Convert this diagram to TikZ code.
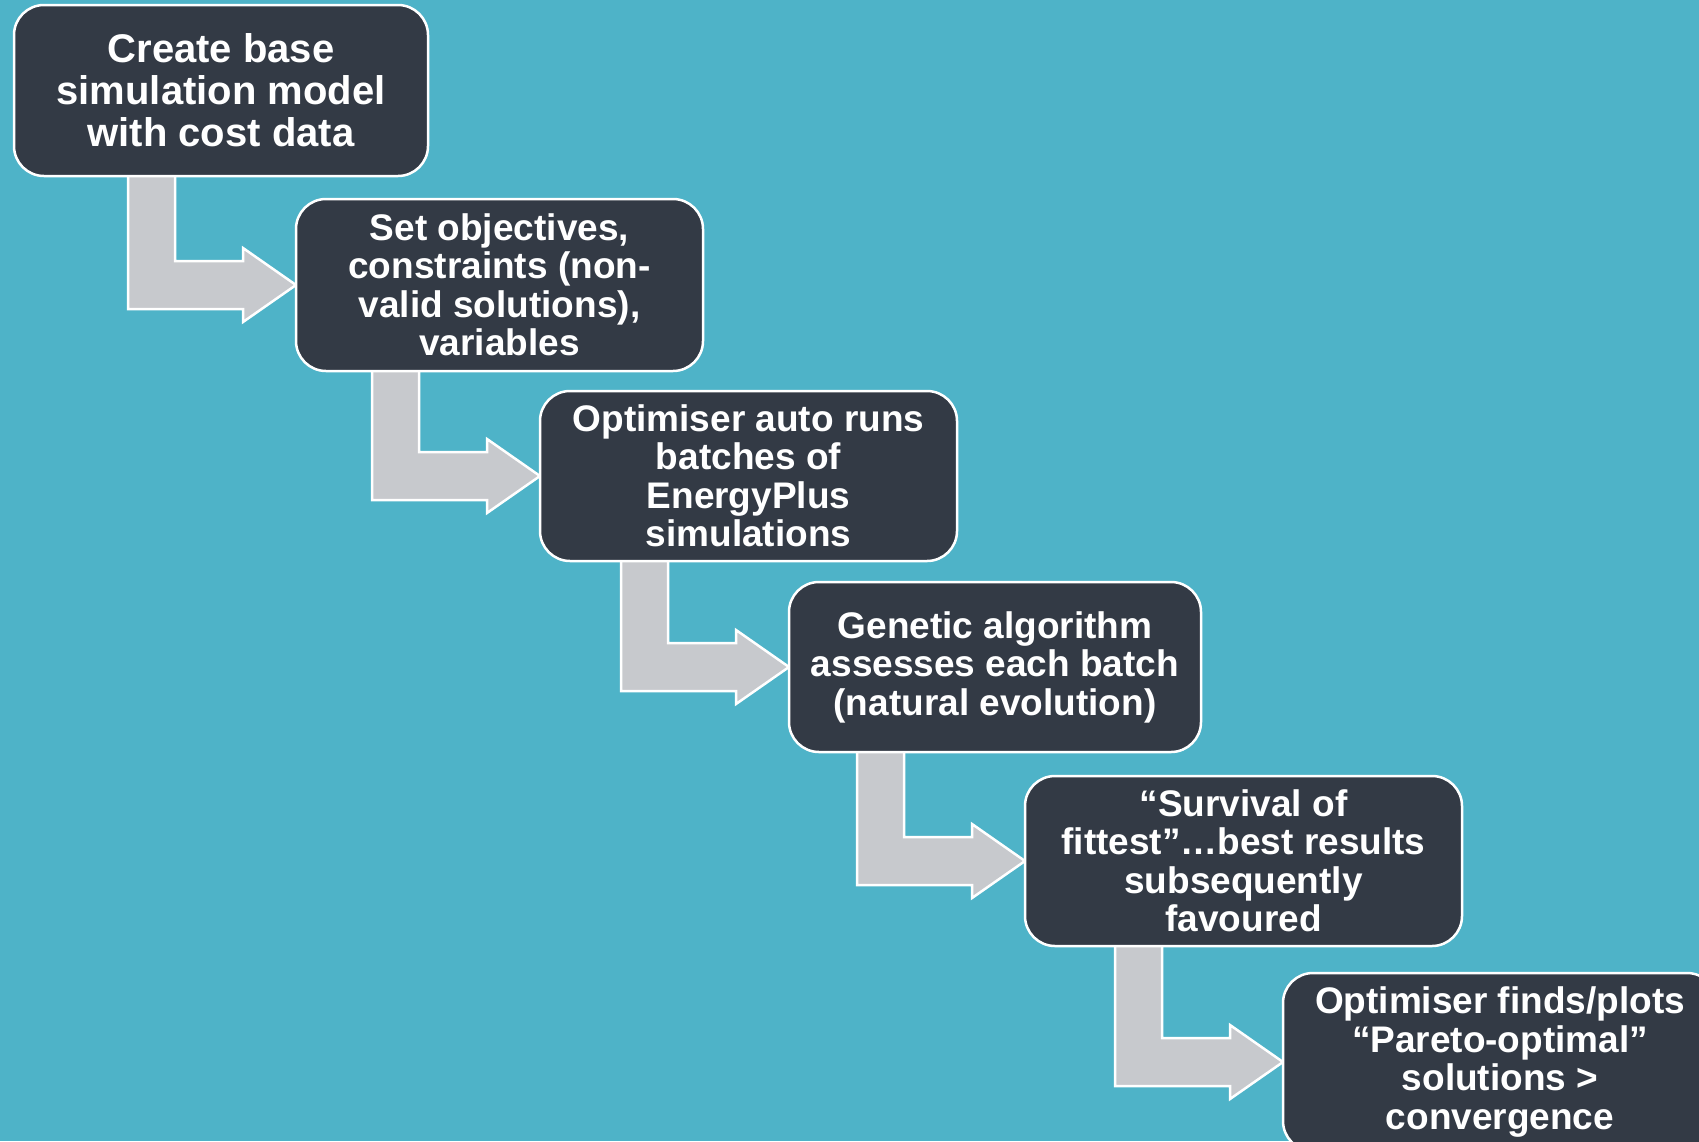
\documentclass[tikz,border=0pt]{standalone}
\usepackage{fontspec}
\setmainfont{Liberation Sans}
\usetikzlibrary{calc}
\pgfdeclarelayer{behind}
\pgfsetlayers{behind,main}
\definecolor{bgteal}{RGB}{78,179,200}
\definecolor{boxdark}{RGB}{51,58,69}
\definecolor{arrowgrey}{RGB}{199,201,205}
\tikzset{
  stepbox/.style={draw=white, line width=2.5pt, fill=boxdark, rounded corners=30pt,
    text=white, font=\bfseries\fontsize{37}{38.5}\selectfont, align=center,
    inner sep=0pt, outer sep=0pt},
  bigtext/.style={font=\bfseries\fontsize{40}{42}\selectfont},
  connarrow/.style={draw=white, line width=2.5pt, fill=arrowgrey, line join=miter}
}
\newcommand\stepconn[2]{%
  \draw[connarrow] let \p1=(#2.west), \p2=(#1.south) in
    (\x1-168pt,\y2+3pt) -- (\x1-121pt,\y2+3pt) -- (\x1-121pt,\y1+24pt)
    -- (\x1-53pt,\y1+24pt) -- (\x1-53pt,\y1+37pt) -- (\x1,\y1)
    -- (\x1-53pt,\y1-37pt) -- (\x1-53pt,\y1-24pt) -- (\x1-168pt,\y1-24pt) -- cycle;}
\begin{document}
\begin{tikzpicture}[x=1pt,y=-1pt]
\useasboundingbox (0,0) rectangle (1699,1141);
\node[stepbox,bigtext,minimum width=414pt,minimum height=171pt] (s1) at (221,90.5)
  {Create base\\simulation model\\with cost data};
\node[stepbox,minimum width=407pt,minimum height=172pt] (s2) at (499.5,285)
  {Set objectives,\\constraints (non-\\valid solutions),\\variables};
\node[stepbox,minimum width=417pt,minimum height=170pt] (s3) at (748.5,476)
  {Optimiser auto runs\\batches of\\EnergyPlus\\simulations};
\node[stepbox,minimum width=412pt,minimum height=170pt] (s4) at (995,667)
  {Genetic algorithm\\assesses each batch\\(natural evolution)};
\node[stepbox,minimum width=437pt,minimum height=170pt] (s5) at (1243.5,861)
  {“Survival of\\fittest”…best results\\subsequently\\favoured};
\node[stepbox,minimum width=434pt,minimum height=178pt] (s6) at (1500,1062)
  {Optimiser finds/plots\\“Pareto-optimal”\\solutions >\\convergence};
\begin{pgfonlayer}{behind}
  \fill[bgteal] (0,0) rectangle (1699,1141);
  \stepconn{s1}{s2}
  \stepconn{s2}{s3}
  \stepconn{s3}{s4}
  \stepconn{s4}{s5}
  \stepconn{s5}{s6}
\end{pgfonlayer}
\end{tikzpicture}
\end{document}
